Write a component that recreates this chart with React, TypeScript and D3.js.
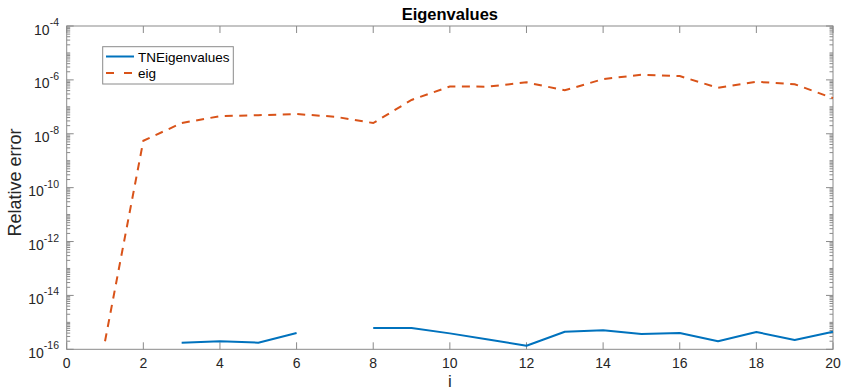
import React, { useRef, useEffect } from 'react'
import * as d3 from 'd3'

// x positions (i)
const iValues = [1, 2, 3, 4, 5, 6, 7, 8, 9, 10, 11, 12, 13, 14, 15, 16, 17, 18, 19, 20]

// relative error of eig (dashed orange)
const eigErr = [2.0e-16, 5.5e-9, 2.5e-8, 4.5e-8, 4.9e-8, 5.4e-8, 4.3e-8, 2.5e-8, 1.8e-7, 5.7e-7,
  5.6e-7, 8.1e-7, 4.1e-7, 1.07e-6, 1.55e-6, 1.38e-6, 5.1e-7, 8.5e-7, 6.9e-7, 2.1e-7]

// relative error of TNEigenvalues (solid blue), null = exact (not drawn on log axis)
const tnErr = [null, null, 1.76e-16, 2.0e-16, 1.76e-16, 4.0e-16, null, 6.2e-16, 6.2e-16, 3.9e-16,
  2.3e-16, 1.36e-16, 4.5e-16, 5.1e-16, 3.7e-16, 4.0e-16, 2.0e-16, 4.4e-16, 2.2e-16, 4.5e-16]

const xTicks = [0, 2, 4, 6, 8, 10, 12, 14, 16, 18, 20]
const yTickExps = [-16, -14, -12, -10, -8, -6, -4]

const seriesNames = ['TNEigenvalues', 'eig']
const seriesColors = ['#0072BD', '#D95319']

const layout = { width: 844, height: 391, left: 66.7, right: 833, top: 26, bottom: 349.3 }
const FONT = '"Liberation Sans", Arial, Helvetica, sans-serif'
const AXIS = '#8a8a8a'

export default function App() {
  const ref = useRef<SVGSVGElement>(null)

  useEffect(() => {
    const svg = d3.select(ref.current)
    svg.selectAll('*').remove()

    const x = d3.scaleLinear().domain([0, 20]).range([layout.left, layout.right])
    const y = d3.scaleLog().domain([1e-16, 1e-4]).range([layout.bottom, layout.top])

    const g = svg.append('g')

    // ticks (inward, on all four sides)
    const ticks = g.append('g').attr('stroke', AXIS).attr('stroke-width', 1)
    xTicks.forEach(t => {
      const px = x(t)
      ticks.append('line').attr('x1', px).attr('x2', px).attr('y1', layout.bottom).attr('y2', layout.bottom - 7)
      ticks.append('line').attr('x1', px).attr('x2', px).attr('y1', layout.top).attr('y2', layout.top + 7)
    })
    for (let e = -16; e < -4; e++) {
      for (let k = 1; k <= 9; k++) {
        const v = k * Math.pow(10, e)
        const py = y(v)
        const major = k === 1 && yTickExps.includes(e)
        const len = major ? 7 : 3.5
        ticks.append('line').attr('x1', layout.left).attr('x2', layout.left + len).attr('y1', py).attr('y2', py)
        ticks.append('line').attr('x1', layout.right).attr('x2', layout.right - len).attr('y1', py).attr('y2', py)
      }
    }
    {
      const py = y(1e-4)
      ticks.append('line').attr('x1', layout.left).attr('x2', layout.left + 7).attr('y1', py).attr('y2', py)
      ticks.append('line').attr('x1', layout.right).attr('x2', layout.right - 7).attr('y1', py).attr('y2', py)
    }

    // box
    g.append('rect')
      .attr('x', layout.left).attr('y', layout.top)
      .attr('width', layout.right - layout.left).attr('height', layout.bottom - layout.top)
      .attr('fill', 'none').attr('stroke', AXIS).attr('stroke-width', 1)

    // x tick labels
    g.append('g').selectAll('text').data(xTicks).join('text')
      .attr('x', d => x(d)).attr('y', 368)
      .attr('text-anchor', 'middle')
      .attr('font-family', FONT).attr('font-size', 14).attr('fill', '#262626')
      .text(d => d)

    // y tick labels: 10^e
    const yl = g.append('g').selectAll('text').data(yTickExps).join('text')
      .attr('x', 59).attr('y', d => y(Math.pow(10, d)) + 8.5)
      .attr('text-anchor', 'end')
      .attr('font-family', FONT).attr('fill', '#262626')
    yl.append('tspan').attr('font-size', 14).text('10')
    yl.append('tspan').attr('font-size', 10.5).attr('dy', -8.5).text(d => '-' + Math.abs(d))

    // lines
    const line = d3.line<number | null>()
      .defined(d => d != null)
      .x((d, i) => x(iValues[i]))
      .y(d => y(d as number))

    g.append('path').datum(tnErr)
      .attr('d', line).attr('fill', 'none')
      .attr('stroke', seriesColors[0]).attr('stroke-width', 2)
      .attr('stroke-linejoin', 'round')

    g.append('path').datum(eigErr as (number | null)[])
      .attr('d', line).attr('fill', 'none')
      .attr('stroke', seriesColors[1]).attr('stroke-width', 2)
      .attr('stroke-dasharray', '8,6.5')

    // legend
    const lg = g.append('g')
    lg.append('rect').attr('x', 102.7).attr('y', 46.7).attr('width', 130.6).attr('height', 37.3)
      .attr('fill', 'white').attr('stroke', AXIS).attr('stroke-width', 1)
    seriesNames.forEach((name, i) => {
      const ly = 56.5 + i * 16.5
      lg.append('line').attr('x1', 106).attr('x2', 134).attr('y1', ly).attr('y2', ly)
        .attr('stroke', seriesColors[i]).attr('stroke-width', 2)
        .attr('stroke-dasharray', i === 1 ? '8,10' : null)
      lg.append('text').attr('x', 138).attr('y', ly + 5)
        .attr('font-family', FONT).attr('font-size', 13.5).attr('fill', '#000')
        .text(name)
    })

    // title and axis labels
    g.append('text').attr('x', (layout.left + layout.right) / 2).attr('y', 19.5)
      .attr('text-anchor', 'middle').attr('font-family', FONT)
      .attr('font-size', 16.5).attr('font-weight', 'bold').attr('fill', '#000')
      .text('Eigenvalues')

    g.append('text').attr('x', (layout.left + layout.right) / 2).attr('y', 387)
      .attr('text-anchor', 'middle').attr('font-family', FONT)
      .attr('font-size', 17).attr('fill', '#262626')
      .text('i')

    g.append('text')
      .attr('transform', `translate(21, 182.5) rotate(-90)`)
      .attr('text-anchor', 'middle').attr('font-family', FONT)
      .attr('font-size', 18).attr('fill', '#262626')
      .text('Relative error')
  }, [])

  return (
    <div style={{ position: 'absolute', left: 0, top: 0 }}>
      <svg ref={ref} width={layout.width} height={layout.height} style={{ display: 'block', background: 'white' }} />
    </div>
  )
}
